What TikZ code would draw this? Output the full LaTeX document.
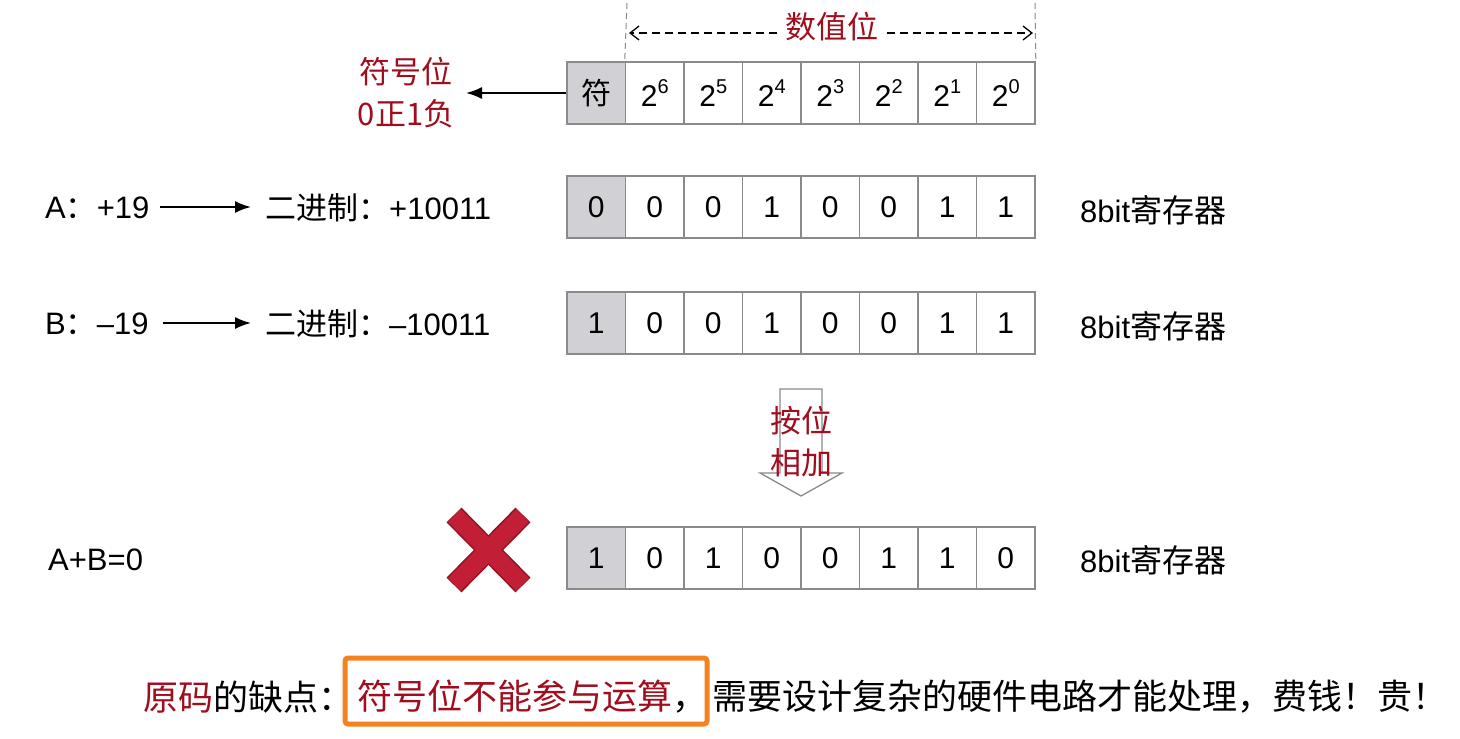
\documentclass[tikz,border=0pt]{standalone}
\usepackage{fontspec}
\setmainfont{Liberation Sans}
\newfontfamily\cjk{Noto Sans CJK SC}
\usetikzlibrary{arrows.meta}
\definecolor{dred}{HTML}{A00E1E}
\definecolor{xred}{HTML}{C21F37}
\definecolor{xout}{HTML}{8E1222}
\definecolor{cellgray}{HTML}{D1D0D4}
\definecolor{bordergray}{HTML}{8A8A8A}
\definecolor{boxorange}{HTML}{F5821F}
\tikzset{
  cell/.style={draw=bordergray, line width=1.6pt, minimum width=58.5pt, minimum height=62pt, inner sep=0pt, font=\fontsize{30}{30}\selectfont},
  signcell/.style={cell, fill=cellgray},
  lbl/.style={inner sep=0pt, anchor=west, font=\fontsize{31}{31}\selectfont},
  reglbl/.style={inner sep=0pt, anchor=west, font=\fontsize{31}{31}\selectfont},
  redlbl/.style={inner sep=0pt, text=dred, font=\cjk\fontsize{31}{42}\selectfont, align=center},
  bottom/.style={inner sep=0pt, anchor=west, font=\cjk\fontsize{35}{35}\selectfont},
  conn/.style={line width=1.8pt, -{Latex[length=16pt,width=12pt]}},
  dashy/.style={line width=1.3pt, dash pattern=on 8pt off 5pt},
}
\newcommand{\pw}[1]{2\raisebox{0.45em}{\fontsize{20}{20}\selectfont #1}}
\begin{document}
\begin{tikzpicture}[x=1pt,y=-1pt]
\useasboundingbox[fill=white] (0,0) rectangle (1460,739);
% top register (header)
\node[signcell] (t0) at (596.25,93) {\cjk 符};
\foreach \i/\e in {1/6,2/5,3/4,4/3,5/2,6/1,7/0}{
  \node[cell] (t\i) at ({567+58.5*(\i+0.5)},93) {\pw{\e}};
}
% row A
\node[signcell] (a0) at (596.25,207) {0};
\foreach \i/\v in {1/0,2/0,3/1,4/0,5/0,6/1,7/1}{
  \node[cell] (a\i) at ({567+58.5*(\i+0.5)},207) {\v};
}
% row B
\node[signcell] (b0) at (596.25,323) {1};
\foreach \i/\v in {1/0,2/0,3/1,4/0,5/0,6/1,7/1}{
  \node[cell] (b\i) at ({567+58.5*(\i+0.5)},323) {\v};
}
% row C
\node[signcell] (c0) at (596.25,558) {1};
\foreach \i/\v in {1/0,2/1,3/0,4/0,5/1,6/1,7/0}{
  \node[cell] (c\i) at ({567+58.5*(\i+0.5)},558) {\v};
}
% value-bit range
\coordinate (dl0) at (627,3);
\coordinate (dr0) at (1035,3);
\draw[bordergray, line width=1pt, dash pattern=on 6pt off 4pt] (dl0) -- (t1.north west);
\draw[bordergray, line width=1pt, dash pattern=on 6pt off 4pt] (dr0) -- (t7.north east);
\node[redlbl, fill=white, inner xsep=8pt] (sz) at (832,27) {数值位};
\coordinate (arL) at (629,33);
\coordinate (arR) at (1033,33);
\draw[dashy, -{Straight Barb[length=9pt,width=14pt]}] (sz.west|-arL) -- (arL);
\draw[dashy, -{Straight Barb[length=9pt,width=14pt]}] (sz.east|-arR) -- (arR);
% sign bit label
\node[redlbl] (fh) at (406,93) {符号位\\0正1负};
\coordinate (fhtip) at (466,93);
\draw[conn] (t0.west) -- (fhtip);
% row labels
\node[lbl] (la) at (45,208) {A{\cjk ：}+19};
\node[lbl] (ba) at (265,208) {{\cjk 二进制：}+10011};
\draw[conn, shorten >=14pt] (la.east|-0,207) ++(10,0) -- (ba.west|-0,207);
\node[lbl] (lb) at (45,324) {B{\cjk ：}–19};
\node[lbl] (bb) at (265,324) {{\cjk 二进制：}–10011};
\draw[conn, shorten >=14pt] (lb.east|-0,323) ++(14,0) -- (bb.west|-0,323);
\node[lbl] (lc) at (48,560) {A+B=0};
% register labels
\node[reglbl] (ra) at (1080,210) {8bit{\cjk\fontsize{32}{32}\selectfont 寄存器}};
\node[reglbl] (rb) at (1080,326) {8bit{\cjk\fontsize{32}{32}\selectfont 寄存器}};
\node[reglbl] (rc) at (1080,560) {8bit{\cjk\fontsize{32}{32}\selectfont 寄存器}};
% hollow arrow
\draw[bordergray, line width=1.3pt, fill=white] (780,389) -- (822,389) -- (822,473) -- (842,473) -- (801,496) -- (760,473) -- (780,473) -- cycle;
\node[redlbl] (aw) at (801,442) {按位\\相加};
% cross
\draw[xout, line width=21pt] (454,515) -- (523,585);
\draw[xout, line width=21pt] (523,515) -- (454,585);
\draw[xred, line width=18pt, shorten <=0.6pt, shorten >=0.6pt] (454,515) -- (523,585);
\draw[xred, line width=18pt, shorten <=0.6pt, shorten >=0.6pt] (523,515) -- (454,585);
% bottom text
\draw[boxorange, line width=5pt, rounded corners=3pt] (345,658) rectangle (707,724);
\node[bottom] (d1) at (143,697) {\textcolor{dred}{原码}的缺点：};
\node[bottom] (d2) at (357,697) {\textcolor{dred}{符号位不能参与运算}，};
\node[bottom] (d3) at (712,697) {需要设计复杂的硬件电路才能处理，费钱！贵！};
\end{tikzpicture}
\end{document}
